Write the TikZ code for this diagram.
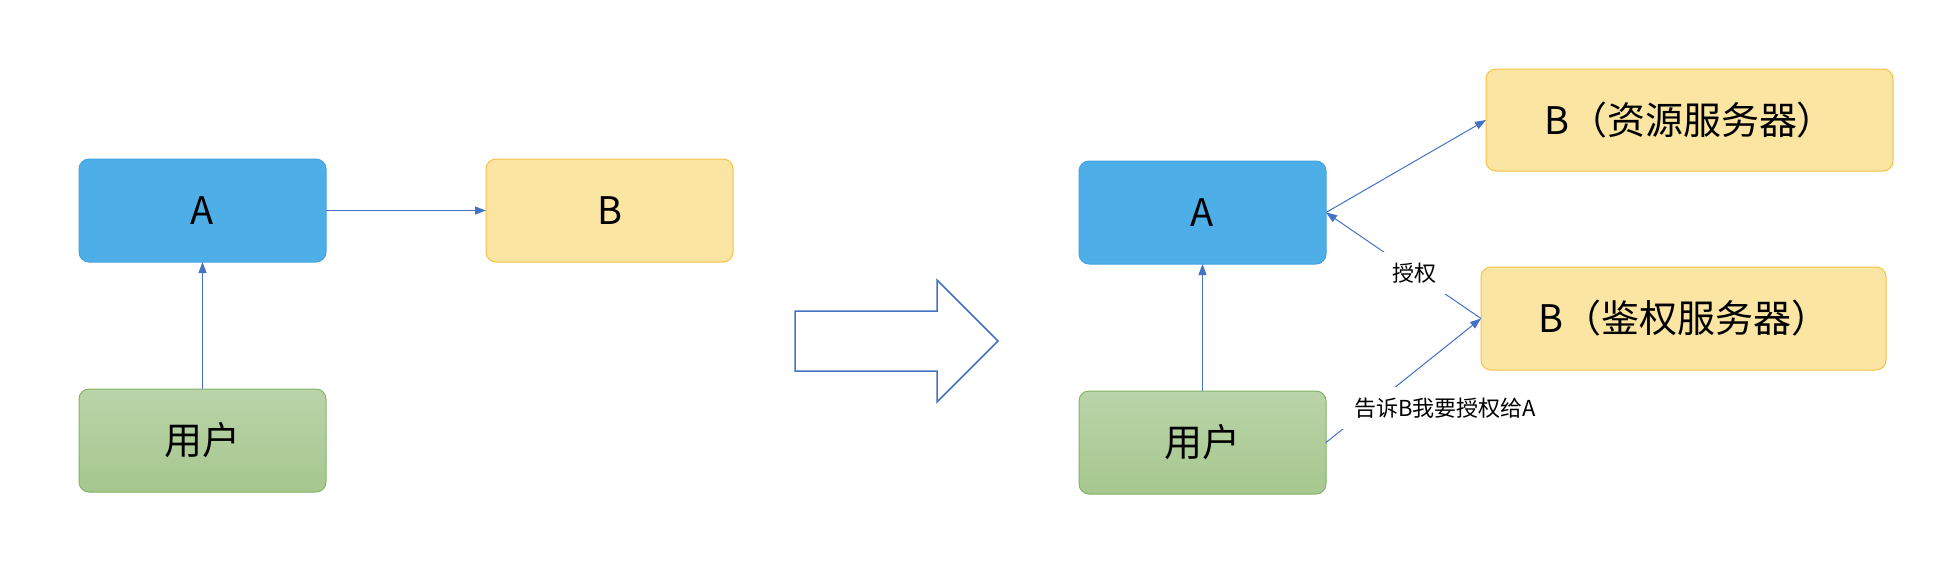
\documentclass[tikz,border=0pt]{standalone}
\usepackage{fontspec}
\setmainfont{Noto Sans CJK SC}
\usepackage{tikz}
\usetikzlibrary{positioning,arrows.meta}
\definecolor{clientblue}{HTML}{4DAEE8}
\definecolor{clientedge}{HTML}{45A3DF}
\definecolor{serverfill}{HTML}{FBE5A3}
\definecolor{serveredge}{HTML}{F5C243}
\definecolor{usertop}{HTML}{BAD4A9}
\definecolor{userbottom}{HTML}{A6C78E}
\definecolor{useredge}{HTML}{82B366}
\definecolor{linkblue}{HTML}{4472C4}

\begin{document}
\begin{tikzpicture}[x=1pt, y=-1pt,
    box/.style={rounded corners=10pt, minimum width=247pt, minimum height=103pt,
      inner sep=0pt, outer sep=0pt, line width=1pt, font=\fontsize{38}{42}\selectfont},
    client/.style={box, fill=clientblue, draw=clientedge},
    server/.style={box, fill=serverfill, draw=serveredge},
    user/.style={box, top color=usertop, bottom color=userbottom, draw=useredge},
    link/.style={draw=linkblue, line width=1pt, -{Triangle[length=11pt,width=8pt]}},
    note/.style={fill=white, inner sep=11pt, font=\fontsize{22}{26}\selectfont}]

    \useasboundingbox (0,0) rectangle (1960,582);

    \node[client] (a) at (202.5,210.5) {A};
    \node[server, right=160pt of a] (b) {B};
    \node[user, below=127pt of a] (u) {用户};

    \draw[link] (a.east) -- (b.west);
    \draw[link] (u.north) -- (a.south);

    \draw[linkblue, line width=1.5pt] (795,311) -- (937,311) -- (937,280) -- (998,341)
      -- (937,402) -- (937,371) -- (795,371) -- cycle;

    \node[client] (a2) at (1202.5,212.5) {A};
    \node[user, below=127pt of a2] (u2) {用户};
    \node[server, minimum width=407pt, minimum height=102pt] (rs) at (1689.5,120) {B（资源服务器）};
    \node[server, minimum width=405pt] (as) at (1683.5,318.5) {B（鉴权服务器）};

    \draw[link] (u2.north) -- (a2.south);
    \draw[link] (a2.east) -- (rs.west);
    \draw[link] (as.west) -- (a2.east) node[note, pos=0.43] (grant) {授权};
    \draw[link] (u2.east) -- (as.west);
    \node[note, inner xsep=14pt] (tell) at (1445,408) {告诉B我要授权给A};
\end{tikzpicture}
\end{document}
